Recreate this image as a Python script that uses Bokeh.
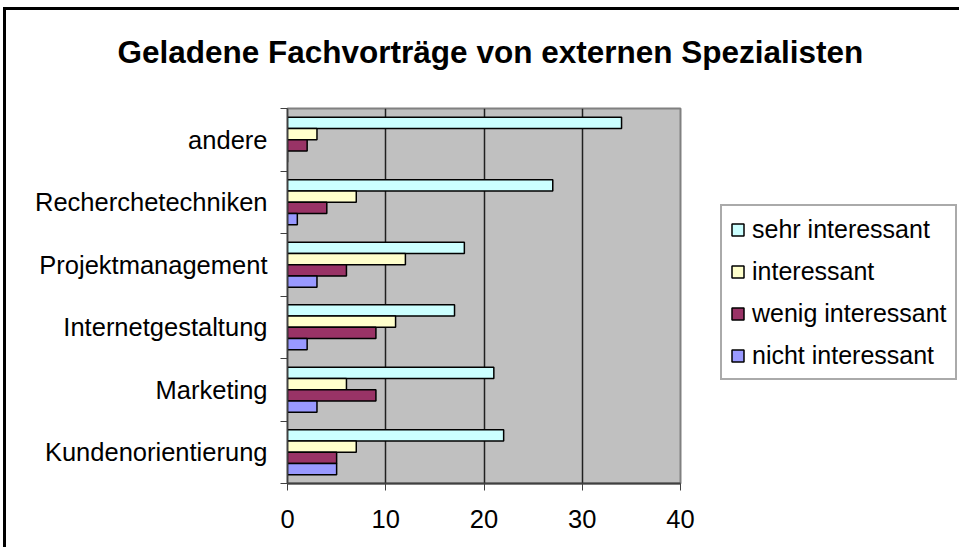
import numpy as np
from bokeh.plotting import figure
from bokeh.models import (Range1d, FixedTicker, Legend, LegendItem, ColumnDataSource, Title)
from bokeh.transform import dodge
from bokeh.embed import file_html
from bokeh.resources import INLINE

categories = ["Kundenorientierung", "Marketing", "Internetgestaltung",
              "Projektmanagement", "Recherchetechniken", "andere"]
series_names = ["sehr interessant", "interessant", "wenig interessant", "nicht interessant"]
sehr_interessant = [22, 21, 17, 18, 27, 34]
interessant = [7, 6, 11, 12, 7, 3]
wenig_interessant = [5, 9, 9, 6, 4, 2]
nicht_interessant = [5, 3, 2, 3, 1, 0]
x_ticks = [0, 10, 20, 30, 40]
title_text = "Geladene Fachvorträge von externen Spezialisten"

colors = ["#CCFFFF", "#FFFFCC", "#993366", "#9999FF"]
offsets = [0.27, 0.09, -0.09, -0.27]
FONT = "Liberation Sans"

n = len(categories)
centers = (np.arange(n) + 0.5).tolist()      # band centre of each category
bounds = list(range(n + 1))                   # band boundaries

source = ColumnDataSource(dict(cat=categories, yc=centers, s0=sehr_interessant, s1=interessant,
                               s2=wenig_interessant, s3=nicht_interessant))

p = figure(title=None, y_range=Range1d(0, n), x_range=Range1d(x_ticks[0], x_ticks[-1]),
           frame_width=393, frame_height=375,
           min_border_left=281, min_border_right=263, min_border_top=98, min_border_bottom=64,
           output_backend="svg", toolbar_location=None)
p.styles = {"border-left": "3px solid black", "border-top": "3px solid black",
            "margin-left": "3px", "margin-top": "7px"}

p.background_fill_color = "#C0C0C0"
p.border_fill_color = "white"
p.outline_line_color = "#808080"
p.outline_line_width = 2
p.ygrid.visible = False
p.xgrid.grid_line_color = "#202020"
p.xgrid.grid_line_width = 1.5
p.xgrid.ticker = FixedTicker(ticks=x_ticks)

# x axis
p.xaxis.ticker = FixedTicker(ticks=x_ticks)
p.xaxis.major_tick_out = 7
p.xaxis.major_tick_in = 0
p.xaxis.minor_tick_line_color = None
p.xaxis.axis_line_color = "#404040"
p.xaxis.axis_line_width = 2
p.xaxis.major_tick_line_color = "#404040"
p.xaxis.major_label_text_font = FONT
p.xaxis.major_label_text_font_size = "25.5px"
p.xaxis.major_label_text_color = "black"
p.xaxis.major_label_standoff = 19

# y axis: labels at band centres, tick marks at band boundaries
p.yaxis.ticker = FixedTicker(ticks=centers, minor_ticks=bounds)
p.yaxis.major_label_overrides = {c: cat for c, cat in zip(centers, categories)}
p.yaxis.major_tick_line_color = None
p.yaxis.major_tick_out = 0
p.yaxis.major_tick_in = 0
p.yaxis.minor_tick_out = 7
p.yaxis.minor_tick_in = 0
p.yaxis.minor_tick_line_color = "#404040"
p.yaxis.axis_line_color = "#404040"
p.yaxis.axis_line_width = 1.5
p.yaxis.major_label_text_font = FONT
p.yaxis.major_label_text_font_size = "25.5px"
p.yaxis.major_label_text_color = "black"
p.yaxis.major_label_standoff = 13

renderers = []
for i, name in enumerate(series_names):
    r = p.hbar(y=dodge("yc", offsets[i]), left=0, right="s%d" % i,
               height=0.18, fill_color=colors[i], line_color="black", line_width=1.5,
               source=source)
    renderers.append(r)

legend = Legend(items=[LegendItem(label=nm, renderers=[r]) for nm, r in zip(series_names, renderers)],
                location=(40, 103), margin=0, padding=8, spacing=12,
                label_height=30, glyph_height=15, glyph_width=15, label_standoff=7,
                label_text_font=FONT, label_text_font_size="25px", label_text_color="black",
                border_line_color="#555555", border_line_width=2,
                background_fill_color="white", background_fill_alpha=1)
p.add_layout(legend, "right")

# spacer between frame and title (nearest the frame), then the title itself
spacer = Title(text="\u00a0", text_font_size="1px", standoff=36)
p.add_layout(spacer, "above")
main_title = Title(text=title_text, text_font=FONT, text_font_size="31.5px",
                   text_font_style="bold", text_color="black", align="left",
                   offset=-170, standoff=0, vertical_align="bottom")
p.add_layout(main_title, "above")

open("out.html", "w").write(file_html(p, INLINE))
